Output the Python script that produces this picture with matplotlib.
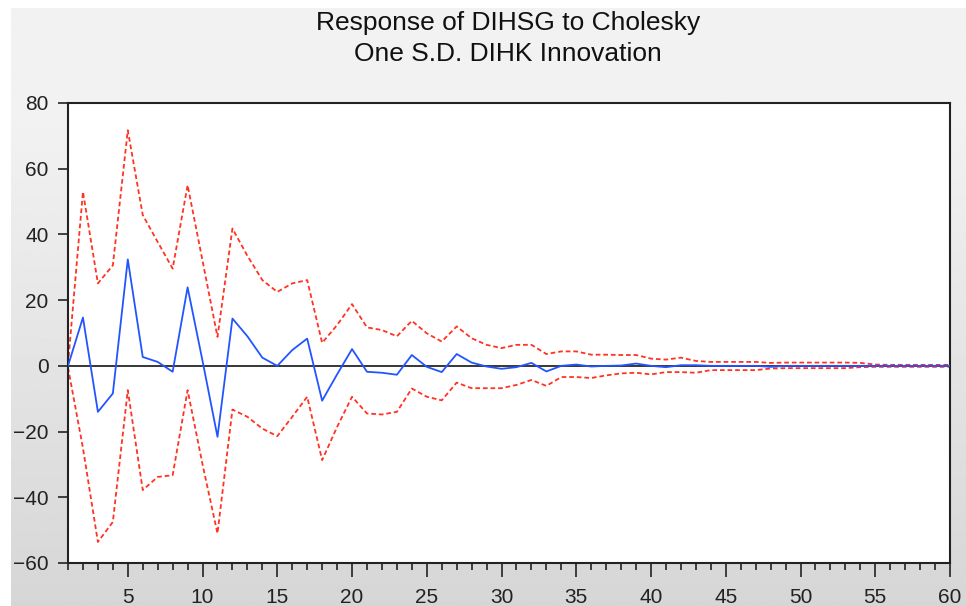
import matplotlib
matplotlib.use("Agg")
import matplotlib.pyplot as plt
import numpy as np
from matplotlib.ticker import MultipleLocator

# impulse response of DIHSG to a one S.D. DIHK shock, periods 1..60
periods = np.arange(1, 61)

response = [0.0, 14.7, -14.0, -8.4, 32.4, 2.7, 1.2, -1.8, 23.9, 1.5,
            -21.6, 14.4, 9.0, 2.5, 0.0, 4.8, 8.3, -10.6, -2.6, 5.1,
            -1.8, -2.1, -2.7, 3.3, -0.3, -1.9, 3.6, 1.0, -0.2, -0.9,
            -0.4, 0.9, -1.7, 0.0, 0.4, -0.2, 0.0, 0.1, 0.7, 0.0,
            -0.4, 0.2, 0.2, 0.0, 0.0, 0.0, 0.0, -0.3, 0.0, 0.0,
            0.0, 0.0, 0.0, 0.0, 0.0, 0.0, 0.0, 0.0, 0.0, 0.0]

upper = [0.5, 53.0, 25.1, 30.6, 71.7, 45.9, 37.7, 29.6, 55.0, 32.0,
         8.8, 41.8, 33.5, 26.1, 22.5, 25.1, 26.1, 7.0, 12.4, 18.8,
         11.7, 10.9, 9.0, 13.7, 9.9, 7.4, 12.0, 8.4, 6.4, 5.4,
         6.4, 6.4, 3.6, 4.4, 4.4, 3.4, 3.4, 3.3, 3.3, 2.2,
         1.9, 2.5, 1.5, 1.2, 1.2, 1.2, 1.2, 0.9, 1.0, 1.0,
         1.0, 1.0, 1.0, 0.9, 0.4, 0.3, 0.3, 0.3, 0.3, 0.3]

lower = [-0.5, -25.0, -53.6, -47.5, -7.4, -37.8, -33.8, -33.3, -7.4, -30.0,
         -51.0, -13.3, -15.5, -19.1, -21.4, -15.5, -9.4, -28.7, -18.6, -9.4,
         -14.5, -14.8, -14.0, -6.9, -9.4, -10.5, -5.1, -6.8, -6.8, -6.8,
         -5.8, -4.3, -6.1, -3.4, -3.4, -3.7, -2.9, -2.3, -2.1, -2.6,
         -1.9, -1.9, -2.1, -1.3, -1.3, -1.3, -1.3, -0.8, -0.7, -0.7,
         -0.7, -0.7, -0.7, -0.4, -0.3, -0.3, -0.3, -0.3, -0.3, -0.3]

plt.rcParams['font.family'] = ['Liberation Sans', 'DejaVu Sans']

W, H = 966, 606
fig = plt.figure(figsize=(W / 100, H / 100), dpi=100)
fig.patch.set_facecolor('white')

# grey gradient backdrop (eviews style), white strip top/left
bg = fig.add_axes([11 / W, 0, 1 - 11 / W, 1 - 8 / H])
bg.axis('off')
rows = np.linspace(0, 1, 300)
shade = np.where(rows < 0.17, 242, 242 - (rows - 0.17) / 0.83 * 28) / 255.0
grad = np.repeat(shade[:, None], 2, axis=1)
bg.imshow(grad, cmap='gray', vmin=0, vmax=1, aspect='auto', extent=[0, 1, 1, 0])
bg.set_xlim(0, 1)
bg.set_ylim(1, 0)

ax = fig.add_axes([68 / W, (H - 563) / H, (950 - 68) / W, (563 - 103) / H])
ax.set_facecolor('white')

ax.axhline(0, color='black', lw=1.1, zorder=1)
ax.plot(periods, upper, color='#ff3322', lw=1.3, dashes=(2.6, 1.6), zorder=2)
ax.plot(periods, lower, color='#ff3322', lw=1.3, dashes=(2.6, 1.6), zorder=2)
ax.plot(periods, response, color='#2255ff', lw=1.3, zorder=3)

ax.set_xlim(1, 60)
ax.set_ylim(-60, 80)
ax.set_yticks(np.arange(-60, 81, 20))
ax.xaxis.set_major_locator(MultipleLocator(5))
ax.xaxis.set_minor_locator(MultipleLocator(1))
ax.tick_params(axis='y', direction='out', length=7, width=1.2, labelsize=15,
               colors='#222222', pad=7)
ax.tick_params(axis='x', which='major', direction='out', length=10, width=1.2,
               labelsize=15, colors='#222222', pad=8)
ax.tick_params(axis='x', which='minor', direction='out', length=5, width=1.2,
               colors='#222222')
ax.tick_params(top=False, right=False)
for s in ax.spines.values():
    s.set_linewidth(1.5)
    s.set_color('#222222')

fig.text(508 / W, 1 - 23 / H, 'Response of DIHSG to Cholesky', ha='center',
         va='center', fontsize=19, color='#111111')
fig.text(508 / W, 1 - 54 / H, 'One S.D. DIHK Innovation', ha='center',
         va='center', fontsize=19, color='#111111')

plt.savefig('out.png', dpi=100)
